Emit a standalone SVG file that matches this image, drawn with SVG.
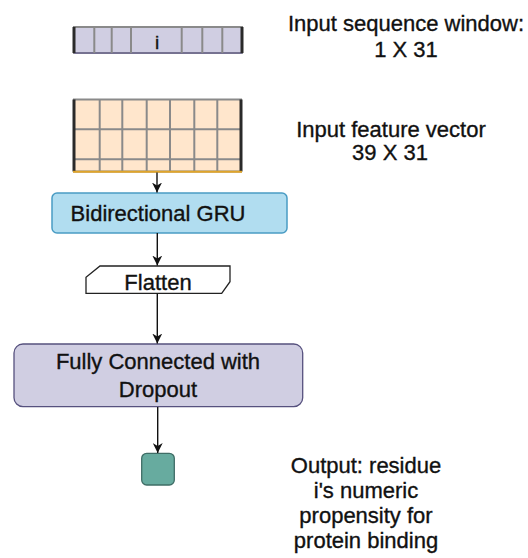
<svg xmlns="http://www.w3.org/2000/svg" width="528" height="558" viewBox="0 0 528 558">
<style>
text{font-family:"Liberation Sans",Arial,sans-serif;font-size:22px;fill:#111;stroke:#111;stroke-width:0.35;text-anchor:middle}
.grid{stroke:#8a8a8a;stroke-width:2;fill:none}
.edge{stroke:#2a2a2a;stroke-width:3}
.conn{stroke:#111;stroke-width:1.4;fill:none;marker-end:url(#arr)}
</style>
<defs>
<marker id="arr" viewBox="0 0 10 10" refX="10" refY="5" markerWidth="10" markerHeight="10" markerUnits="userSpaceOnUse" orient="auto">
<path d="M0,0 L10,5 L0,10 L3,5 Z" fill="#111"/>
</marker>
</defs>
<rect width="528" height="558" fill="#fff"/>
<g id="seq-window">
<rect x="74" y="27" width="168" height="26" fill="#d0cee2" stroke="#8a8a8a" stroke-width="2"/>
<line x1="74" y1="53" x2="242" y2="53" stroke="#6f6a93" stroke-width="1.5"/>
<path class="grid" d="M94.3,27V53M111.7,27V53M131,27V53M181.7,27V53M202.3,27V53M222.3,27V53"/>
<line class="edge" x1="74" y1="27" x2="74" y2="53"/>
<line class="edge" x1="242" y1="27" x2="242" y2="53"/>
<text x="157" y="49" style="font-size:19px">i</text>
</g>
<g id="seq-label">
<text x="406" y="31">Input sequence window:</text>
<text x="406" y="57">1 X 31</text>
</g>
<g id="feature-grid">
<rect x="74" y="99.5" width="167" height="72" fill="#ffe6cc" stroke="#8a8a8a" stroke-width="2"/>
<path class="grid" d="M99.7,99.5V171.5M122.3,99.5V171.5M146.7,99.5V171.5M170,99.5V171.5M194.3,99.5V171.5M217.3,99.5V171.5M74,129.3H241M74,159.3H241"/>
<line class="edge" x1="74" y1="99.5" x2="74" y2="171.5"/>
<line class="edge" x1="241" y1="99.5" x2="241" y2="171.5"/>
<line x1="73" y1="171.8" x2="242" y2="171.8" stroke="#e0a52a" stroke-width="2"/>
</g>
<g id="feature-label">
<text x="391" y="137">Input feature vector</text>
<text x="390" y="160">39 X 31</text>
</g>
<g id="gru">
<rect x="52" y="193" width="235" height="40" rx="5" fill="#b1ddf0" stroke="#4a9cc4" stroke-width="1.5"/>
<text x="158" y="221">Bidirectional GRU</text>
</g>
<g id="flatten">
<polygon points="100,266 230,266 230,281.7 221.7,293.3 86,293.3 86,277.3" fill="#fff" stroke="#222" stroke-width="1.3"/>
<text x="158" y="290">Flatten</text>
</g>
<g id="fc">
<rect x="14" y="344" width="288.7" height="62.7" rx="9" fill="#d0cee2" stroke="#56517e" stroke-width="1.3"/>
<text x="158" y="369">Fully Connected with</text>
<text x="158" y="397">Dropout</text>
</g>
<g id="output">
<rect x="141.7" y="453.3" width="32.6" height="31.7" rx="5" fill="#67ab9f" stroke="#3f6d66" stroke-width="1.3"/>
</g>
<g id="output-label">
<text x="366" y="473">Output: residue</text>
<text x="366" y="498">i's numeric</text>
<text x="366" y="523">propensity for</text>
<text x="366" y="548">protein binding</text>
</g>
<g id="connectors">
<line class="conn" x1="157" y1="172.5" x2="157" y2="192.5"/>
<line class="conn" x1="157.3" y1="233" x2="157.3" y2="265.5"/>
<line class="conn" x1="157.3" y1="293.5" x2="157.3" y2="343.5"/>
<line class="conn" x1="157.7" y1="407" x2="157.7" y2="453"/>
</g>
</svg>
